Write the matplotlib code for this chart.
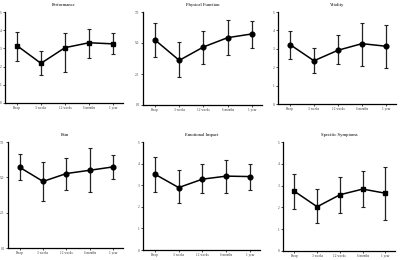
import matplotlib
matplotlib.use("Agg")
import matplotlib.pyplot as plt

W, H = 400, 260
timepoints = ["Preop", "3 weeks", "12 weeks", "6 months", "1 year"]

titles = ["Performance", "Physical Function", "Vitality",
          "Pain", "Emotional Impact", "Specific Symptoms"]

perf_mean = [3.15, 2.18, 3.04, 3.31, 3.25]
perf_hi = [3.90, 2.85, 3.87, 4.09, 3.82]
perf_lo = [2.30, 1.53, 1.69, 2.47, 2.67]

phys_mean = [5.24, 3.60, 4.68, 5.43, 5.73]
phys_hi = [6.59, 5.05, 5.94, 6.85, 6.80]
phys_lo = [3.90, 2.29, 3.34, 4.00, 4.62]

vit_mean = [3.23, 2.35, 2.92, 3.28, 3.14]
vit_hi = [3.97, 3.03, 3.74, 4.42, 4.30]
vit_lo = [2.45, 1.68, 2.20, 2.09, 1.93]

pain_mean = [5.71, 4.71, 5.27, 5.50, 5.74]
pain_hi = [6.63, 6.09, 6.39, 7.10, 6.60]
pain_lo = [4.78, 3.35, 4.10, 3.93, 4.89]

emo_mean = [3.51, 2.89, 3.28, 3.42, 3.40]
emo_hi = [4.31, 3.71, 4.00, 4.18, 4.00]
emo_lo = [2.69, 2.17, 2.66, 2.66, 2.77]

sym_mean = [2.74, 2.03, 2.58, 2.84, 2.65]
sym_hi = [3.55, 2.86, 3.38, 3.65, 3.85]
sym_lo = [1.91, 1.27, 1.76, 2.03, 1.42]

ticks_0_5 = [0, 1, 2, 3, 4, 5]
ticks_0_75 = [0.0, 2.5, 5.0, 7.5]

panels = [
    (perf_mean, perf_hi, perf_lo, ticks_0_5, ["0", "1", "2", "3", "4", "5"], "s"),
    (phys_mean, phys_hi, phys_lo, ticks_0_75, ["0.0", "2.5", "5.0", "7.5"], "o"),
    (vit_mean, vit_hi, vit_lo, ticks_0_5, ["0", "1", "2", "3", "4", "5"], "o"),
    (pain_mean, pain_hi, pain_lo, ticks_0_75, ["0.0", "2.5", "5.0", "7.5"], "o"),
    (emo_mean, emo_hi, emo_lo, ticks_0_5, ["0", "1", "2", "3", "4", "5"], "o"),
    (sym_mean, sym_hi, sym_lo, ticks_0_5, ["0", "1", "2", "3", "4", "5"], "s"),
]

# axes boxes in pixels: left, top, right, bottom
boxes = [
    (5, 12, 123, 103),
    (143, 12, 262, 105),
    (278, 12, 396, 104),
    (8, 142, 123, 248),
    (143, 142, 260, 250),
    (283, 142, 395, 251),
]

fig = plt.figure(figsize=(W / 100, H / 100), dpi=100)
fig.patch.set_facecolor("white")

serif = ["Liberation Serif", "DejaVu Serif"]

for (mean, hi, lo, yt, ytl, mk), (l, t, r, b), title in zip(panels, boxes, titles):
    ax = fig.add_axes([l / W, 1 - b / H, (r - l) / W, (b - t) / H])
    x = list(range(len(timepoints)))
    yerr = [[m - lw for m, lw in zip(mean, lo)], [h - m for m, h in zip(mean, hi)]]
    ax.errorbar(x, mean, yerr=yerr, color="black", ecolor="#222222", lw=1.1,
                elinewidth=0.9, capsize=1.6, capthick=0.8, marker=mk,
                markersize=3.4, markerfacecolor="black", markeredgecolor="black")
    ax.set_xlim(-0.5, 4.42)
    ax.set_ylim(yt[0], yt[-1])
    ax.set_yticks(yt)
    ax.set_yticklabels(ytl)
    ax.set_xticks(x)
    ax.set_xticklabels(timepoints)
    for side in ["top", "right"]:
        ax.spines[side].set_visible(False)
    for side in ["left", "bottom"]:
        ax.spines[side].set_linewidth(0.9)
    ax.tick_params(axis="both", length=1.5, width=0.6, pad=1.0, labelsize=2.4,
                   colors="#333333")
    for lab in ax.get_xticklabels() + ax.get_yticklabels():
        lab.set_family(serif)
    ax.set_title(title, fontsize=3.3, family=serif, pad=4)

fig.savefig("out.png", dpi=100, facecolor="white")
